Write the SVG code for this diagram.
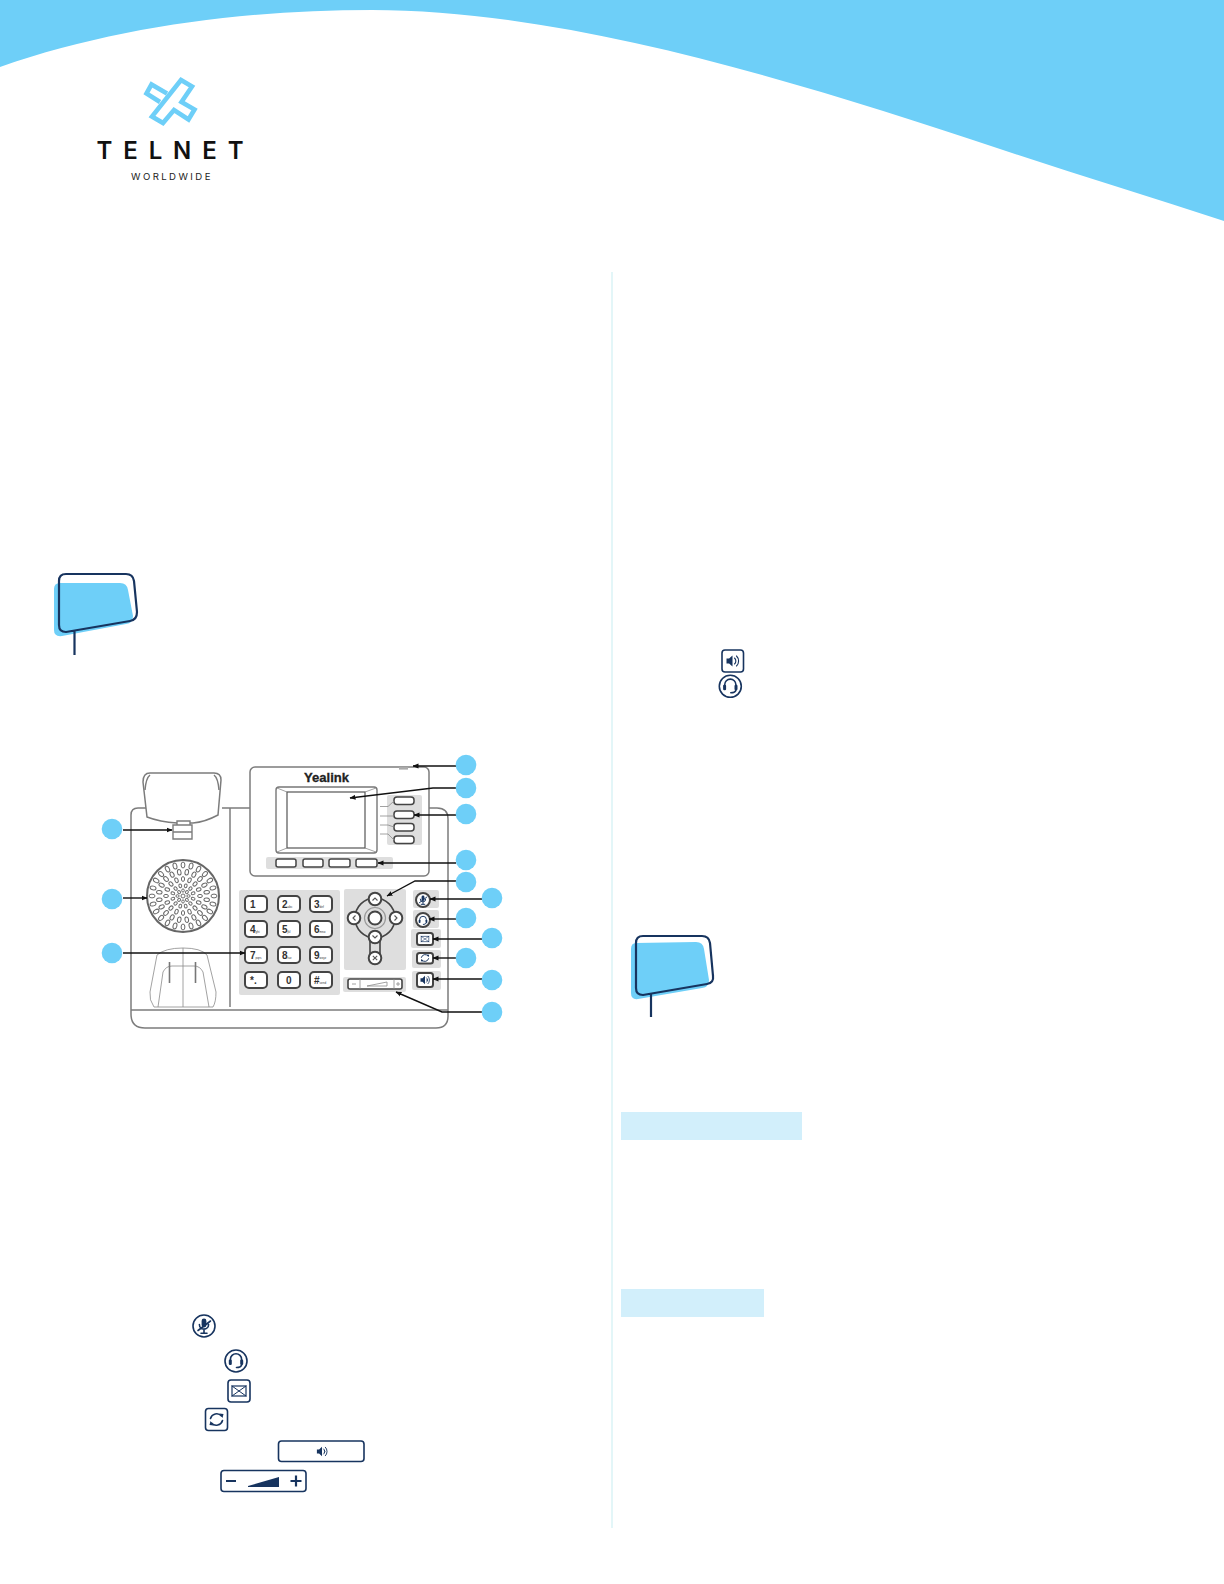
<svg xmlns="http://www.w3.org/2000/svg" width="1224" height="1584" viewBox="0 0 1224 1584">
<style>
.sky{fill:#6ecff8}
.navy{fill:none;stroke:#17345f;stroke-width:2.2;stroke-linejoin:round}
.ink{fill:#17345f;stroke:none}
.inkl{fill:none;stroke:#17345f;stroke-width:1.6;stroke-linecap:round}
.btn{fill:#fff;stroke:#17345f;stroke-width:1.6}
.panel{fill:#dedede;stroke:none}
.ol{fill:#fff;stroke:#7c7c7c;stroke-width:1.5}
.oln{fill:none;stroke:#7c7c7c;stroke-width:1.5}
.thin{fill:none;stroke:#8a8a8a;stroke-width:.8}
.key{fill:#fff;stroke:#444;stroke-width:2}
.dark{fill:none;stroke:#444;stroke-width:1.6}
.glyl{fill:none;stroke:#555;stroke-width:1.1}
.k{font-family:"Liberation Sans",Arial,sans-serif;font-weight:700;font-size:10px;fill:#333}
.ks{font-size:3px;font-weight:400}
.conn{fill:none;stroke:#111;stroke-width:1.4;marker-end:url(#ah)}
.bub{fill:#6ecff8}
.hole{fill:#fff;stroke:#6a6a6a;stroke-width:1}
.lg{fill:none;stroke:#6ecff8;stroke-width:4.6;stroke-linejoin:miter}
</style>
<defs>
<marker id="ah" markerWidth="6" markerHeight="6" refX="5.5" refY="2.5" orient="auto" markerUnits="userSpaceOnUse" viewBox="0 0 6 5"><path d="M0 0L6 2.5L0 5Z" fill="#111"/></marker>
<ellipse id="e1" cx="0" cy="-31" rx="1.9" ry="3" class="hole"/>
<ellipse id="e2" cx="0" cy="-24" rx="1.8" ry="2.8" class="hole"/>
<ellipse id="e3" cx="0" cy="-17" rx="1.6" ry="2.4" class="hole"/>
<ellipse id="e4" cx="0" cy="-10.5" rx="1.4" ry="1.9" class="hole"/>
<ellipse id="e5" cx="0" cy="-5.5" rx="1.3" ry="1.6" class="hole"/>
<g id="q1"><use href="#e1"/><use href="#e1" transform="rotate(15)"/><use href="#e1" transform="rotate(30)"/><use href="#e1" transform="rotate(45)"/><use href="#e1" transform="rotate(60)"/><use href="#e1" transform="rotate(75)"/></g>
<g id="q2"><use href="#e2" transform="rotate(9)"/><use href="#e2" transform="rotate(27)"/><use href="#e2" transform="rotate(45)"/><use href="#e2" transform="rotate(63)"/><use href="#e2" transform="rotate(81)"/></g>
<g id="q3"><use href="#e3"/><use href="#e3" transform="rotate(22.5)"/><use href="#e3" transform="rotate(45)"/><use href="#e3" transform="rotate(67.5)"/></g>
<g id="q4"><use href="#e4" transform="rotate(15)"/><use href="#e4" transform="rotate(45)"/><use href="#e4" transform="rotate(75)"/></g>
<g id="q5"><use href="#e5"/><use href="#e5" transform="rotate(45)"/></g>
<g id="q"><use href="#q1"/><use href="#q2"/><use href="#q3"/><use href="#q4"/><use href="#q5"/></g>
<g id="gSpeaker"><path class="ink" d="M-6 -2.4H-3.4L0 -5.6V5.6L-3.4 2.4H-6Z"/><path class="inkl" style="stroke-width:1.1" d="M2 -3A4 4 0 0 1 2 3M4 -5A7 7 0 0 1 4 5M3 -1A1.5 1.5 0 0 1 3 1"/></g>
<g id="gHead"><path class="inkl" d="M-5.6 1V-.6A5.6 5.6 0 0 1 5.6 -.6V1M5.6 5Q5 7.5 .5 7.5"/><rect class="ink" x="-7.2" y="-.5" width="3" height="5.5" rx="1.2"/><rect class="ink" x="4.2" y="-.5" width="3" height="5.5" rx="1.2"/></g>
<g id="gMute"><rect class="ink" x="-2.4" y="-7.5" width="4.8" height="9" rx="2.4"/><path class="inkl" d="M-4.6 -1.5A4.6 4.6 0 0 0 4.6 -1.5M0 3.4V7M-3 7.2H3M-6 4.5L6.500 -5"/></g>
<g id="gEnv"><rect x="-7" y="-5" width="14" height="10" fill="none" stroke="#17345f" stroke-width="1.2"/><path class="inkl" style="stroke-width:1" d="M-7 -5L7 5M7 -5L-7 5"/></g>
<g id="gSwap"><path class="inkl" d="M-6 -1A6.4 6.4 0 0 1 5 -3.500M6 1A6.4 6.4 0 0 1 -5 3.500"/><path class="ink" d="M3 -6L7 -5.500L6 -1.500ZM-3 6L-7 5.500L-6 1.500Z"/></g>
</defs>

<rect width="1224" height="1584" fill="#fff"/>
<path id="header-wave" class="sky" d="M0 67C115 27 245 10 372 10C565 10 800 82 1000 149C1075 174 1150 197 1224 221V0H0Z"/>

<g id="logo">
<path class="lg" d="M167 93.500L151.500 84.500L146.500 93.500L160 102"/>
<path class="lg" d="M181 80L192 86.500L181.500 102L194.500 109.500L188.500 119.500L174 110L163 123L152 116.500Z"/>
<text x="96.500" y="159.300" textLength="147" lengthAdjust="spacing" font-family="Inter,'Liberation Sans',sans-serif" font-weight="600" font-size="24" fill="#111">TELNET</text>
<text x="131" y="180" textLength="79.500" lengthAdjust="spacing" font-family="Inter,'Liberation Sans',sans-serif" font-size="9.600" fill="#222">WORLDWIDE</text>
</g>

<rect id="column-divider" x="611" y="272" width="2" height="1256" fill="#e3f6f8"/>

<g id="callout-1">
<path class="sky" d="M60 583H120Q127 583 128 590L133 616Q133 623 126 624L62 636Q54 637 54 630V589Q54 583 60 583Z"/>
<path class="navy" d="M66 574H126Q133 574 134 581L137 612Q137 620 130 621L66 632Q59 632 59 625V581Q59 574 66 574ZM74.500 631V655"/>
</g>

<g id="callout-2">
<path class="sky" d="M636 943L696 942Q703 942 704 949L709 980Q709 987 702 988L638 999Q631 1000 631 993V949Q631 943 636 943Z"/>
<path class="navy" d="M643 936H702Q709 936 710 943L713 976Q714 983 707 984L643 995Q636 995 636 988V943Q636 936 643 936ZM651 994V1017"/>
</g>

<g id="phone">
<path class="oln" d="M131 1010V815Q131 808 138 808H146M222 808H250M429 808H437Q448 808 448 819V1016Q448 1028 436 1028H145Q131 1028 131 1014V1010H448"/>
<path class="oln" d="M230 808V1007"/>
<path class="ol" d="M147 817L143 782Q143 773 150 773H214Q221 773 221 780L218 815Q205 822 193 823H177Q160 822 147 817Z"/>
<path class="oln" d="M145 790Q146 778 150 775M219 790Q218 778 214 775"/>
<path class="ol" style="stroke-width:1.4" d="M173 825H192V839H173ZM177 821H190V825H177ZM173 832H192"/>
<g id="speaker" transform="translate(183 896)">
<circle r="36" fill="#fff" stroke="#666" stroke-width="2"/>
<use href="#q"/><use href="#q" transform="rotate(90)"/><use href="#q" transform="rotate(180)"/><use href="#q" transform="rotate(270)"/>
<circle r="2" class="hole"/>
</g>
<g id="cradle">
<path class="thin" d="M154 1007Q149 1000 150 992L157 955Q165 948 183 948Q201 948 207 955L216 992Q216 1002 213 1007ZM158 1007L163 972Q166 966 172 966H194Q200 966 203 972L209 1007M183 948V1007"/>
<path d="M169.500 962V983M195.500 962V983" stroke="#777" stroke-width="1.600"/>
</g>

<g id="display-module">
<rect class="ol" x="250" y="767" width="179" height="109" rx="5"/>
<rect x="399" y="767" width="9" height="2.600" fill="#aaa"/>
<text x="304" y="782" textLength="45" lengthAdjust="spacingAndGlyphs" font-family="'Liberation Sans',Arial,sans-serif" font-weight="700" font-size="13" fill="#222" stroke="#222" stroke-width=".3">Yealink</text>
<rect x="276" y="787" width="101" height="66" rx="3" fill="#fff" stroke="#777" stroke-width="1.400"/>
<rect x="287" y="792" width="78" height="56" fill="#fff" stroke="#555" stroke-width="1.200"/>
<path class="thin" d="M277 788L287 792M376 788L365 792M277 852L287 848M376 852L365 848"/>
<rect class="panel" x="387" y="795" width="35" height="50" rx="2"/>
<rect class="key" style="stroke-width:1.500" x="394" y="797" width="20" height="7.500" rx="3"/>
<rect class="key" style="stroke-width:1.500" x="394" y="811" width="20" height="7.500" rx="3"/>
<rect class="key" style="stroke-width:1.500" x="394" y="823.500" width="20" height="7.500" rx="3"/>
<rect class="key" style="stroke-width:1.500" x="394" y="836" width="20" height="7.500" rx="3"/>
<path class="thin" d="M380 806.500H388L394 801M380 816H394M380 825H388L394 827M380 834H388L394 840"/>
<rect class="panel" x="266" y="857" width="127" height="12" rx="2"/>
<rect class="key" style="stroke-width:1.500" x="276" y="859" width="20" height="8" rx="2"/>
<rect class="key" style="stroke-width:1.500" x="303" y="859" width="20" height="8" rx="2"/>
<rect class="key" style="stroke-width:1.500" x="329" y="859" width="21" height="8" rx="2"/>
<rect class="key" style="stroke-width:1.500" x="356" y="859" width="21" height="8" rx="2"/>
</g>

<g id="keypad">
<rect class="panel" x="239" y="890" width="101" height="105" rx="2"/>
<rect class="key" x="245" y="896" width="22" height="16" rx="4"/><rect class="key" x="278" y="896" width="22" height="16" rx="4"/><rect class="key" x="310" y="896" width="22" height="16" rx="4"/>
<rect class="key" x="245" y="921" width="22" height="16" rx="4"/><rect class="key" x="278" y="921" width="22" height="16" rx="4"/><rect class="key" x="310" y="921" width="22" height="16" rx="4"/>
<rect class="key" x="245" y="947" width="22" height="16" rx="4"/><rect class="key" x="278" y="947" width="22" height="16" rx="4"/><rect class="key" x="310" y="947" width="22" height="16" rx="4"/>
<rect class="key" x="245" y="972" width="22" height="16" rx="4"/><rect class="key" x="278" y="972" width="22" height="16" rx="4"/><rect class="key" x="310" y="972" width="22" height="16" rx="4"/>
<text class="k" x="250" y="908">1</text>
<text class="k" x="282" y="908">2<tspan class="ks">abc</tspan></text>
<text class="k" x="314" y="908">3<tspan class="ks">def</tspan></text>
<text class="k" x="250" y="933">4<tspan class="ks">ghi</tspan></text>
<text class="k" x="282" y="933">5<tspan class="ks">jkl</tspan></text>
<text class="k" x="314" y="933">6<tspan class="ks">mno</tspan></text>
<text class="k" x="250" y="959">7<tspan class="ks">pqrs</tspan></text>
<text class="k" x="282" y="959">8<tspan class="ks">tuv</tspan></text>
<text class="k" x="314" y="959">9<tspan class="ks">wxyz</tspan></text>
<text class="k" x="250" y="984">*.</text>
<text class="k" x="286" y="984">0</text>
<text class="k" x="314" y="984">#<tspan class="ks">send</tspan></text>
</g>

<g id="nav-cluster">
<rect class="panel" x="344" y="889" width="62" height="81" rx="2"/>
<circle cx="375" cy="918" r="20" class="dark"/>
<path class="dark" d="M370 940V955M380 940V955"/>
<circle cx="375" cy="918" r="10.500" fill="none" stroke="#999" stroke-width="1.200"/>
<circle cx="375" cy="918" r="6.500" class="key"/>
<circle cx="375" cy="899" r="6.300" class="key"/><circle cx="354" cy="918" r="6.300" class="key"/><circle cx="396" cy="918" r="6.300" class="key"/><circle cx="375" cy="937" r="6.300" class="key"/><circle cx="375" cy="958" r="6.300" class="key"/>
<path class="glyl" d="M372.500 900.500L375 898L377.500 900.500M355.500 915.500L353 918L355.500 920.500M394.500 915.500L397 918L394.500 920.500M372.500 935.500L375 938L377.500 935.500M372.800 955.800L377.200 960.200M377.200 955.800L372.800 960.200"/>
</g>

<g id="volume-key">
<rect class="panel" x="343" y="977" width="63" height="15" rx="2"/>
<rect class="key" style="stroke-width:1.600" x="348" y="979" width="54" height="10" rx="2"/>
<path class="thin" d="M360 979V989M394 979V989M352 984H356M367 986L387 982V986Z"/>
<path class="thin" d="M396 984H400M398 982V986"/>
</g>

<g id="func-keys">
<rect class="panel" x="413" y="890" width="26" height="18" rx="2"/>
<rect class="panel" x="413" y="910" width="26" height="18" rx="2"/>
<rect class="panel" x="411" y="929" width="30" height="19" rx="2"/>
<rect class="panel" x="412" y="950" width="29" height="18" rx="2"/>
<rect class="panel" x="412" y="971" width="29" height="19" rx="2"/>
<circle cx="423" cy="900" r="7" class="key"/>
<circle cx="423" cy="920" r="7" class="key"/>
<rect class="key" x="417" y="933" width="16" height="12" rx="2.500"/>
<rect class="key" x="417" y="953" width="16" height="10.500" rx="2.500"/>
<rect class="key" x="417" y="973" width="16" height="14" rx="2.500"/>
<use href="#gMute" transform="translate(423 900) scale(.6)"/>
<use href="#gHead" transform="translate(423 920) scale(.6)"/>
<use href="#gEnv" transform="translate(425 939) scale(.55)"/>
<use href="#gSwap" transform="translate(425 958) scale(.6)"/>
<use href="#gSpeaker" transform="translate(425 980) scale(.75)"/>
</g>
</g>

<g id="connectors">
<path class="conn" d="M123 830H172"/>
<path class="conn" d="M123 898H147"/>
<path class="conn" d="M123 953H245"/>
<path class="conn" d="M456 766H413"/>
<path class="conn" d="M456 788H433L350 798"/>
<path class="conn" d="M456 815H414"/>
<path class="conn" d="M456 863H378"/>
<path class="conn" d="M456 881H415L387 896"/>
<path class="conn" d="M482 899H430"/>
<path class="conn" d="M456 919H429"/>
<path class="conn" d="M482 939H433"/>
<path class="conn" d="M456 958H433"/>
<path class="conn" d="M482 979H433"/>
<path class="conn" d="M482 1012H442L396 992"/>
</g>

<g id="bubbles">
<circle id="b01" class="bub" cx="112" cy="829" r="10.300"/>
<circle id="b02" class="bub" cx="112" cy="899" r="10.300"/>
<circle id="b03" class="bub" cx="112" cy="953" r="10.300"/>
<circle id="b04" class="bub" cx="466" cy="765" r="10.300"/>
<circle id="b05" class="bub" cx="466" cy="788" r="10.300"/>
<circle id="b06" class="bub" cx="466" cy="814" r="10.300"/>
<circle id="b07" class="bub" cx="466" cy="860" r="10.300"/>
<circle id="b08" class="bub" cx="466" cy="882" r="10.300"/>
<circle id="b09" class="bub" cx="492" cy="898" r="10.300"/>
<circle id="b10" class="bub" cx="466" cy="918" r="10.300"/>
<circle id="b11" class="bub" cx="492" cy="938" r="10.300"/>
<circle id="b12" class="bub" cx="466" cy="958" r="10.300"/>
<circle id="b13" class="bub" cx="492" cy="980" r="10.300"/>
<circle id="b14" class="bub" cx="492" cy="1012" r="10.300"/>
</g>

<g id="icons-left">
<g id="icon-mute"><circle class="btn" cx="204" cy="1326" r="11"/><use href="#gMute" transform="translate(204 1326)"/></g>
<g id="icon-headset"><circle class="btn" cx="236" cy="1361" r="11"/><use href="#gHead" transform="translate(236 1360)"/></g>
<g id="icon-message"><rect class="btn" x="228" y="1380" width="22" height="22" rx="3"/><use href="#gEnv" transform="translate(239 1391)"/></g>
<g id="icon-transfer"><rect class="btn" x="205.500" y="1408.500" width="22" height="22" rx="3"/><use href="#gSwap" transform="translate(216.500 1419.500)"/></g>
<g id="icon-speaker-wide"><rect class="btn" x="278.500" y="1441" width="85.500" height="20.500" rx="3"/><use href="#gSpeaker" transform="translate(322 1451.500) scale(.85)"/></g>
<g id="icon-volume"><rect class="btn" x="221" y="1470.500" width="85" height="21" rx="3"/>
<path d="M226 1481H236M296 1475.500V1486.500M290.500 1481H301.500" stroke="#17345f" stroke-width="2.200" fill="none"/><path class="ink" d="M248 1486L279 1477V1487H248Z"/></g>
</g>

<g id="icons-right">
<g id="icon-speaker"><rect class="btn" x="722" y="650" width="21.500" height="22" rx="3"/><use href="#gSpeaker" transform="translate(732.500 661)"/></g>
<g id="icon-headset-2"><circle class="btn" cx="730.300" cy="686.300" r="11"/><use href="#gHead" transform="translate(730.300 685.300)"/></g>
</g>

<g id="highlights">
<rect x="621" y="1112" width="181" height="28" fill="#d2effb"/>
<rect x="621" y="1289" width="143" height="28" fill="#d2effb"/>
</g>
</svg>
